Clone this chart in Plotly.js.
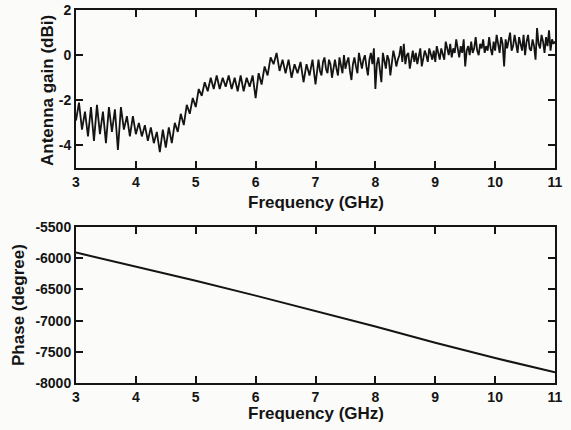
<!DOCTYPE html>
<html>
<head>
<meta charset="utf-8">
<script src="https://cdn.plot.ly/plotly-3.0.1.min.js"></script>
<style>html,body{margin:0;padding:0;background:#fbfbf9;}#chart{width:571px;height:430px;}</style>
</head>
<body>
<div id="chart"></div>
<script>
// Antenna gain (dBi): 3.00–6.95 GHz read every 0.05 GHz
const gainStartLow = 3.0, gainStepLow = 0.05;
const gainDbiLow = [-2.9,-2.1,-3.3,-2.5,-3.6,-2.3,-3.8,-2.2,-3.5,-2.5,-3.9,-2.3,-3.4,-2.4,-4.2,-2.3,-3.3,-2.7,-3.6,-2.7,
-3.5,-3.0,-3.6,-3.1,-3.8,-3.2,-3.9,-3.4,-4.3,-3.3,-4.1,-3.2,-3.9,-3.0,-3.4,-2.6,-3.1,-2.2,-2.6,-1.9,
-2.3,-1.5,-1.8,-1.2,-1.6,-1.0,-1.5,-0.9,-1.5,-1.0,-1.4,-0.9,-1.5,-1.0,-1.6,-0.9,-1.6,-1.0,-1.4,-0.9,
-1.9,-0.8,-1.3,-0.5,-0.9,-0.1,-0.4,0.1,-0.7,-0.2,-0.8,-0.2,-1.0,-0.4,-0.8,-0.3,-1.2,-0.4,-0.9,-0.2];
// Antenna gain (dBi): 7.000–11.000 GHz read every 0.025 GHz
const gainStartHigh = 7.0, gainStepHigh = 0.025;
const gainDbiHigh = [-1.3,-0.6,-0.2,-0.7,-0.9,-0.3,-0.1,-0.6,-0.8,-0.2,-0.4,-1.0,-0.5,-0.2,-0.6,-0.9,-0.1,-0.4,-0.8,0.0,
-0.6,-0.3,-0.1,-0.7,-1.1,-0.4,-0.1,-0.5,-0.8,0.1,-0.3,-0.6,-0.2,0.0,-0.5,-0.9,-0.2,0.1,-0.4,0.3,
-1.5,-0.4,-0.1,-0.8,-1.2,0.1,-0.3,-0.6,0.0,-0.2,-0.9,-0.4,0.2,-0.1,-0.5,-0.2,0.0,0.4,-0.3,0.5,
-0.4,0.0,0.1,-0.6,-0.2,0.2,-0.3,0.1,-0.4,0.0,0.3,-0.5,-0.1,0.2,0.0,-0.3,0.3,0.1,-0.2,0.2,
-0.3,0.4,0.1,-0.2,0.3,0.0,-0.2,0.6,0.2,0.0,0.5,-0.1,0.3,0.1,0.7,0.2,-0.1,0.4,0.1,0.7,
-0.5,0.2,0.4,0.0,0.6,0.1,0.3,0.8,0.2,0.0,0.5,0.3,0.7,0.1,0.4,0.2,0.8,0.3,0.0,0.6,
0.2,0.9,0.4,0.1,0.8,0.5,-0.5,0.7,0.3,0.6,1.0,0.2,0.4,0.9,0.5,0.1,0.8,0.4,0.2,0.9,
0.0,0.6,0.9,0.3,0.2,0.7,0.4,-0.2,1.2,0.5,0.3,0.9,0.6,0.1,0.8,0.4,1.1,0.2,0.7,0.5,
0.6];

// Phase (degree) vs frequency (GHz)
const phaseFreq = [3,4,5,6,7,8,9,10,11];
const phaseDeg = [-5910,-6130,-6360,-6600,-6845,-7095,-7355,-7600,-7830];

const xTicks = [3,4,5,6,7,8,9,10,11];
const gainTickVals = [-4,-2,0,2];
const gainTickText = ['-4','-2','0','2'];
const phaseTickVals = [-8000,-7500,-7000,-6500,-6000,-5500];
const phaseTickText = ['-8000','-7500','-7000','-6500','-6000','-5500'];

// sampling grid of the measured frequencies
const gainFreq = gainDbiLow.map((_, i) => +(gainStartLow + i*gainStepLow).toFixed(3))
  .concat(gainDbiHigh.map((_, i) => +(gainStartHigh + i*gainStepHigh).toFixed(3)));
const gainDbi = gainDbiLow.concat(gainDbiHigh);

const FONT = 'Liberation Sans, Arial, sans-serif';
const ink = '#141414';
const XDOM = [0.1331, 0.972];

function xAxis(anchor){
  return {domain:XDOM, anchor:anchor, range:[3,11], tickvals:xTicks, ticktext:xTicks.map(String),
    showline:true, linewidth:2, linecolor:ink, mirror:'ticks', ticks:'inside', ticklen:7, tickwidth:2, tickcolor:ink,
    showgrid:false, zeroline:false, tickfont:{family:FONT, size:14, color:ink, weight:'bold'}};
}
function yAxis(anchor, domain, range, vals, text){
  return {domain:domain, anchor:anchor, range:range, tickvals:vals, ticktext:text,
    showline:true, linewidth:2, linecolor:ink, mirror:'ticks', ticks:'inside', ticklen:7, tickwidth:2, tickcolor:ink,
    showgrid:false, zeroline:false, tickfont:{family:FONT, size:14, color:ink, weight:'bold'}};
}

const traces = [
  {x:gainFreq, y:gainDbi, xaxis:'x', yaxis:'y', mode:'lines', line:{color:ink, width:1.8}, hoverinfo:'none'},
  {x:phaseFreq, y:phaseDeg, xaxis:'x2', yaxis:'y2', mode:'lines', line:{color:ink, width:2}, hoverinfo:'none'}
];

const TF = {family:FONT, size:17, color:ink, weight:'bold'};
const layout = {
  width:571, height:430, margin:{l:0,r:0,t:0,b:0},
  paper_bgcolor:'#fbfbf9', plot_bgcolor:'#fbfbf9', showlegend:false,
  xaxis: xAxis('y'),
  yaxis: yAxis('x', [0.6093,0.9767], [-5,2], gainTickVals, gainTickText),
  xaxis2: xAxis('y2'),
  yaxis2: yAxis('x2', [0.1093,0.4721], [-8000,-5500], phaseTickVals, phaseTickText),
  annotations:[
    {text:'Frequency (GHz)', xref:'paper', yref:'paper', x:316/571, y:1-202/430, showarrow:false, xanchor:'center', yanchor:'middle', font:TF},
    {text:'Frequency (GHz)', xref:'paper', yref:'paper', x:316/571, y:1-413/430, showarrow:false, xanchor:'center', yanchor:'middle', font:TF},
    {text:'Antenna gain (dBi)', xref:'paper', yref:'paper', x:47/571, y:1-90/430, showarrow:false, textangle:-90, xanchor:'center', yanchor:'middle', font:TF},
    {text:'Phase (degree)', xref:'paper', yref:'paper', x:18/571, y:1-305/430, showarrow:false, textangle:-90, xanchor:'center', yanchor:'middle', font:TF}
  ]
};

Plotly.newPlot('chart', traces, layout, {staticPlot:true, displayModeBar:false});
</script>
</body>
</html>
